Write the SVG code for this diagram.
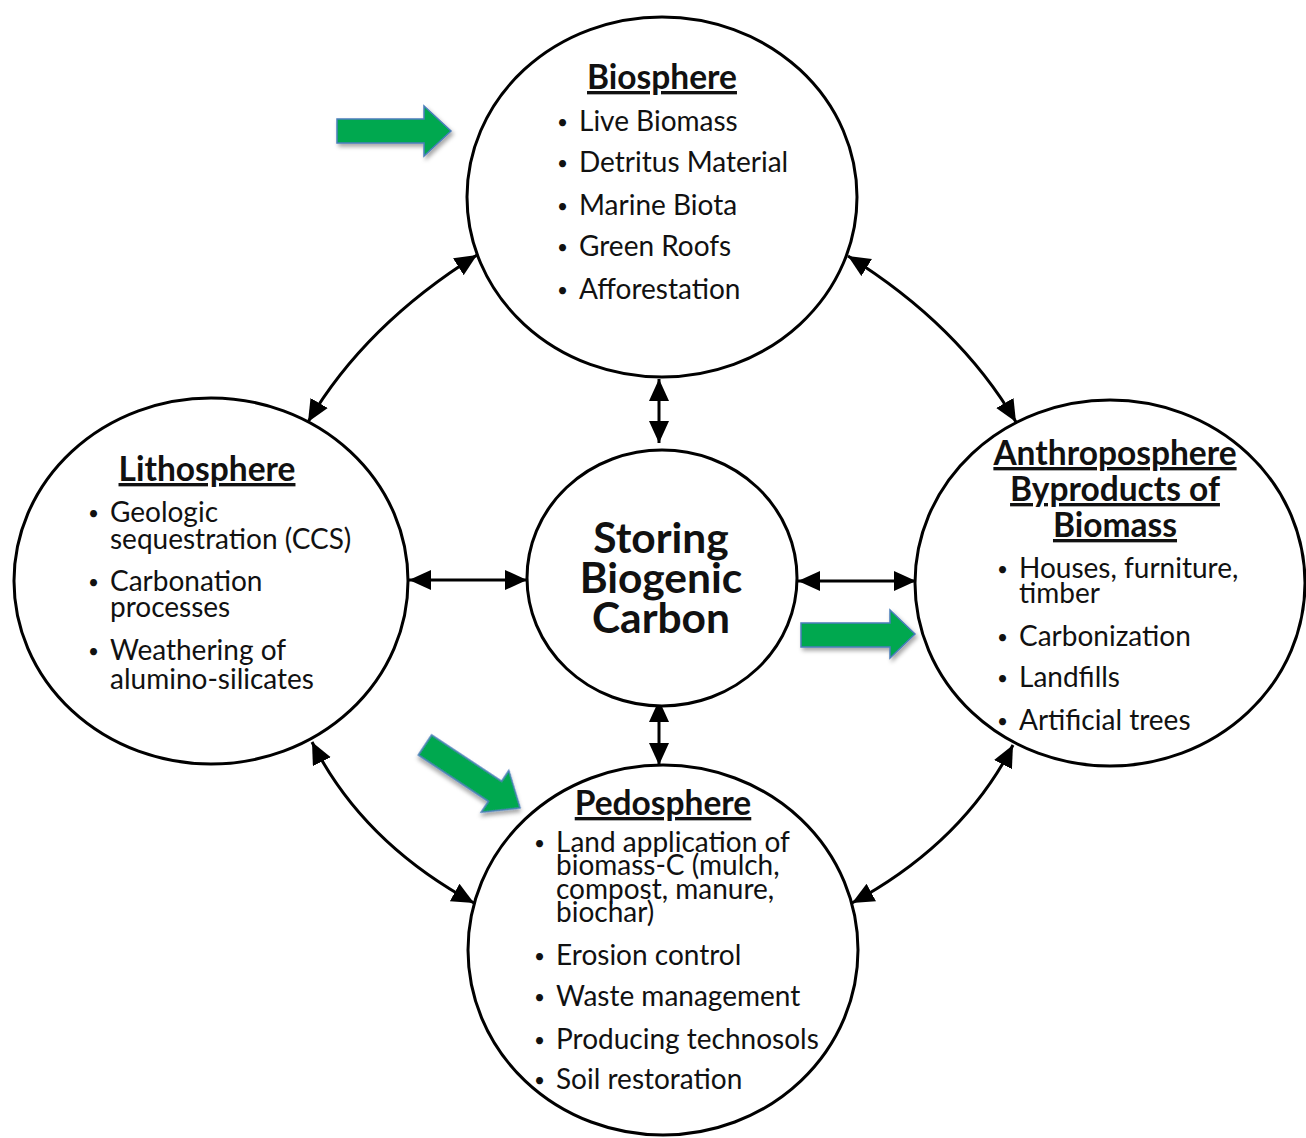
<svg xmlns="http://www.w3.org/2000/svg" width="1306" height="1138" viewBox="0 0 1306 1138">
<style>
.node{fill:#fff;stroke:#000;stroke-width:3}
.conn{fill:none;stroke:#000;stroke-width:3;marker-start:url(#ah);marker-end:url(#ah)}
.t{font-family:Lato,"Liberation Sans",sans-serif;font-size:28px;fill:#111}
.b{font-size:19px}
.h{font-family:Lato,"Liberation Sans",sans-serif;font-size:33.5px;font-weight:bold;fill:#111;text-anchor:middle;text-decoration:underline}
.c{font-family:Lato,"Liberation Sans",sans-serif;font-size:42.5px;font-weight:bold;fill:#111;text-anchor:middle}
.g{fill:#00A850;stroke:#4A7EBB;stroke-width:1.5;filter:url(#sh)}
</style>
<defs>
<marker id="ah" markerUnits="userSpaceOnUse" markerWidth="24" markerHeight="22" refX="22" refY="10" orient="auto-start-reverse" viewBox="0 0 24 22">
<path d="M0,0 L22,10 L0,20 z" fill="#000"/>
</marker>
<filter id="sh" x="-20%" y="-30%" width="150%" height="170%">
<feDropShadow dx="2" dy="3" stdDeviation="2" flood-color="#000" flood-opacity="0.35"/>
</filter>
</defs>
<rect width="1306" height="1138" fill="#fff"/>
<g id="connectors">
<path class="conn" d="M659,379 L659,443"/>
<path class="conn" d="M659,700 L659,765"/>
<path class="conn" d="M409,580 L527,580"/>
<path class="conn" d="M798,581 L916,581"/>
<path class="conn" d="M308,422 Q365,325 477,255"/>
<path class="conn" d="M1016,422 Q959,325 848,256"/>
<path class="conn" d="M312,742 Q362,842 474,903"/>
<path class="conn" d="M1013,745 Q963,843 852,903"/>
</g>
<g id="biosphere">
<ellipse class="node" cx="662" cy="197" rx="195" ry="180"/>
<text class="h" x="662" y="89">Biosphere</text>
<text class="t"><tspan class="b" x="557" y="129">•</tspan><tspan x="579" y="131">Live Biomass</tspan></text>
<text class="t"><tspan class="b" x="557" y="170">•</tspan><tspan x="579" y="172">Detritus Material</tspan></text>
<text class="t"><tspan class="b" x="557" y="213">•</tspan><tspan x="579" y="215">Marine Biota</tspan></text>
<text class="t"><tspan class="b" x="557" y="254">•</tspan><tspan x="579" y="256">Green Roofs</tspan></text>
<text class="t"><tspan class="b" x="557" y="297">•</tspan><tspan x="579" y="299">Afforestation</tspan></text>
</g>
<g id="lithosphere">
<ellipse class="node" cx="211" cy="581" rx="197" ry="183"/>
<text class="h" x="207" y="481">Lithosphere</text>
<text class="t"><tspan class="b" x="88" y="520">•</tspan><tspan x="110" y="522">Geologic</tspan><tspan x="110" y="549">sequestration (CCS)</tspan></text>
<text class="t"><tspan class="b" x="88" y="589">•</tspan><tspan x="110" y="591">Carbonation</tspan><tspan x="110" y="617">processes</tspan></text>
<text class="t"><tspan class="b" x="88" y="658">•</tspan><tspan x="110" y="660">Weathering of</tspan><tspan x="110" y="689">alumino-silicates</tspan></text>
</g>
<g id="center">
<ellipse class="node" cx="662" cy="578" rx="135" ry="128"/>
<text class="c" x="661" y="553">Storing</text>
<text class="c" x="661" y="593">Biogenic</text>
<text class="c" x="661" y="633">Carbon</text>
</g>
<g id="anthroposphere">
<ellipse class="node" cx="1110" cy="583" rx="195" ry="183"/>
<text class="h" x="1115" y="465">Anthroposphere</text>
<text class="h" x="1115" y="501">Byproducts of</text>
<text class="h" x="1115" y="537">Biomass</text>
<text class="t"><tspan class="b" x="997" y="576">•</tspan><tspan x="1019" y="578">Houses, furniture,</tspan><tspan x="1019" y="603">timber</tspan></text>
<text class="t"><tspan class="b" x="997" y="644">•</tspan><tspan x="1019" y="646">Carbonization</tspan></text>
<text class="t"><tspan class="b" x="997" y="685">•</tspan><tspan x="1019" y="687">Landfills</tspan></text>
<text class="t"><tspan class="b" x="997" y="728">•</tspan><tspan x="1019" y="730">Artificial trees</tspan></text>
</g>
<g id="pedosphere">
<ellipse class="node" cx="663" cy="950" rx="195" ry="185"/>
<text class="h" x="663" y="815">Pedosphere</text>
<text class="t"><tspan class="b" x="534" y="850">•</tspan><tspan x="556" y="852">Land application of</tspan><tspan x="556" y="875">biomass-C (mulch,</tspan><tspan x="556" y="899">compost, manure,</tspan><tspan x="556" y="922">biochar)</tspan></text>
<text class="t"><tspan class="b" x="534" y="963">•</tspan><tspan x="556" y="965">Erosion control</tspan></text>
<text class="t"><tspan class="b" x="534" y="1004">•</tspan><tspan x="556" y="1006">Waste management</tspan></text>
<text class="t"><tspan class="b" x="534" y="1047">•</tspan><tspan x="556" y="1049">Producing technosols</tspan></text>
<text class="t"><tspan class="b" x="534" y="1087">•</tspan><tspan x="556" y="1089">Soil restoration</tspan></text>
</g>
<g id="green-arrows">
<polygon class="g" points="337,119 424,119 424,106 451,131 424,156 424,143 337,143"/>
<polygon class="g" points="801,623 890,623 890,610 915,634 890,658 890,647 801,647"/>
<polygon class="g" transform="translate(425,745) rotate(33.5)" points="0,-12 84,-12 84,-25 114,0 84,25 84,12 0,12"/>
</g>
</svg>
